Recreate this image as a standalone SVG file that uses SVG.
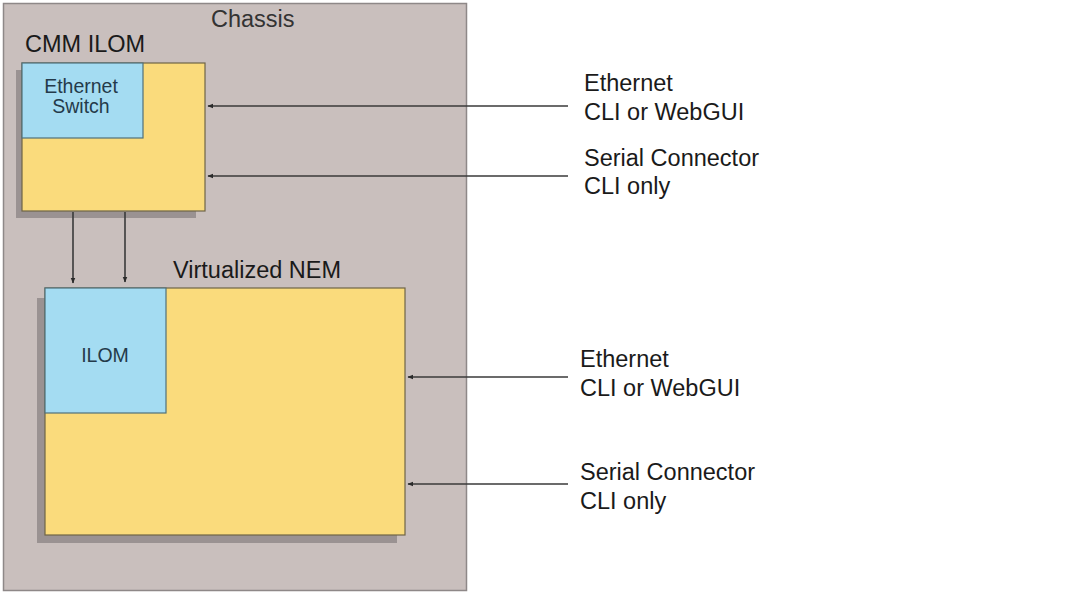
<svg xmlns="http://www.w3.org/2000/svg" width="1090" height="594" viewBox="0 0 1090 594">
<style>
.lbl{font-family:"Liberation Sans",Arial,sans-serif;fill:#1a1a1a;font-size:23.5px}
.in{font-family:"Liberation Sans",Arial,sans-serif;fill:#243a4a;font-size:19.5px}
.box{fill:#fadb7c;stroke:#6e6446;stroke-width:1.2}
.blue{fill:#a4dcf2;stroke:#51707a;stroke-width:1.2}
.sh{fill:#9a9292}
.conn{stroke:#3a3a3a;stroke-width:1.6;fill:none;marker-end:url(#ah)}
</style>
<defs>
<marker id="ah" viewBox="0 0 10 10" refX="9" refY="5" markerWidth="6" markerHeight="6" orient="auto" markerUnits="userSpaceOnUse">
<path d="M0,1 L10,5 L0,9 z" fill="#2a2a2a"/>
</marker>
</defs>
<rect width="1090" height="594" fill="#ffffff"/>
<g id="chassis">
<rect x="3.5" y="3.5" width="463" height="587" fill="#c9bfbd" stroke="#8e8888" stroke-width="1.5"/>
<text class="lbl" x="211" y="27" style="fill:#333">Chassis</text>
</g>
<g id="cmm">
<text class="lbl" x="25" y="52">CMM ILOM</text>
<rect class="sh" x="16" y="70" width="180" height="148"/>
<rect class="box" x="22" y="63" width="183" height="148"/>
<rect class="blue" x="22" y="63" width="121" height="75"/>
<text class="in" x="81" y="93" text-anchor="middle">Ethernet</text>
<text class="in" x="81" y="113" text-anchor="middle">Switch</text>
</g>
<g id="nem">
<text class="lbl" x="173" y="278">Virtualized NEM</text>
<rect class="sh" x="37" y="298" width="360" height="245"/>
<rect class="box" x="45" y="288" width="360" height="247"/>
<rect class="blue" x="45" y="288" width="121" height="125"/>
<text class="in" x="105" y="362" text-anchor="middle">ILOM</text>
</g>
<g id="labels">
<text class="lbl" x="584" y="91">Ethernet</text>
<text class="lbl" x="584" y="120">CLI or WebGUI</text>
<text class="lbl" x="584" y="166">Serial Connector</text>
<text class="lbl" x="584" y="194">CLI only</text>
<text class="lbl" x="580" y="367">Ethernet</text>
<text class="lbl" x="580" y="396">CLI or WebGUI</text>
<text class="lbl" x="580" y="480">Serial Connector</text>
<text class="lbl" x="580" y="509">CLI only</text>
</g>
<g id="connectors">
<line class="conn" x1="568" y1="106" x2="208" y2="106"/>
<line class="conn" x1="568" y1="176" x2="208" y2="176"/>
<line class="conn" x1="568" y1="377" x2="408" y2="377"/>
<line class="conn" x1="568" y1="484" x2="408" y2="484"/>
<line class="conn" x1="73" y1="212" x2="73" y2="283"/>
<line class="conn" x1="125" y1="212" x2="125" y2="282"/>
</g>
</svg>
